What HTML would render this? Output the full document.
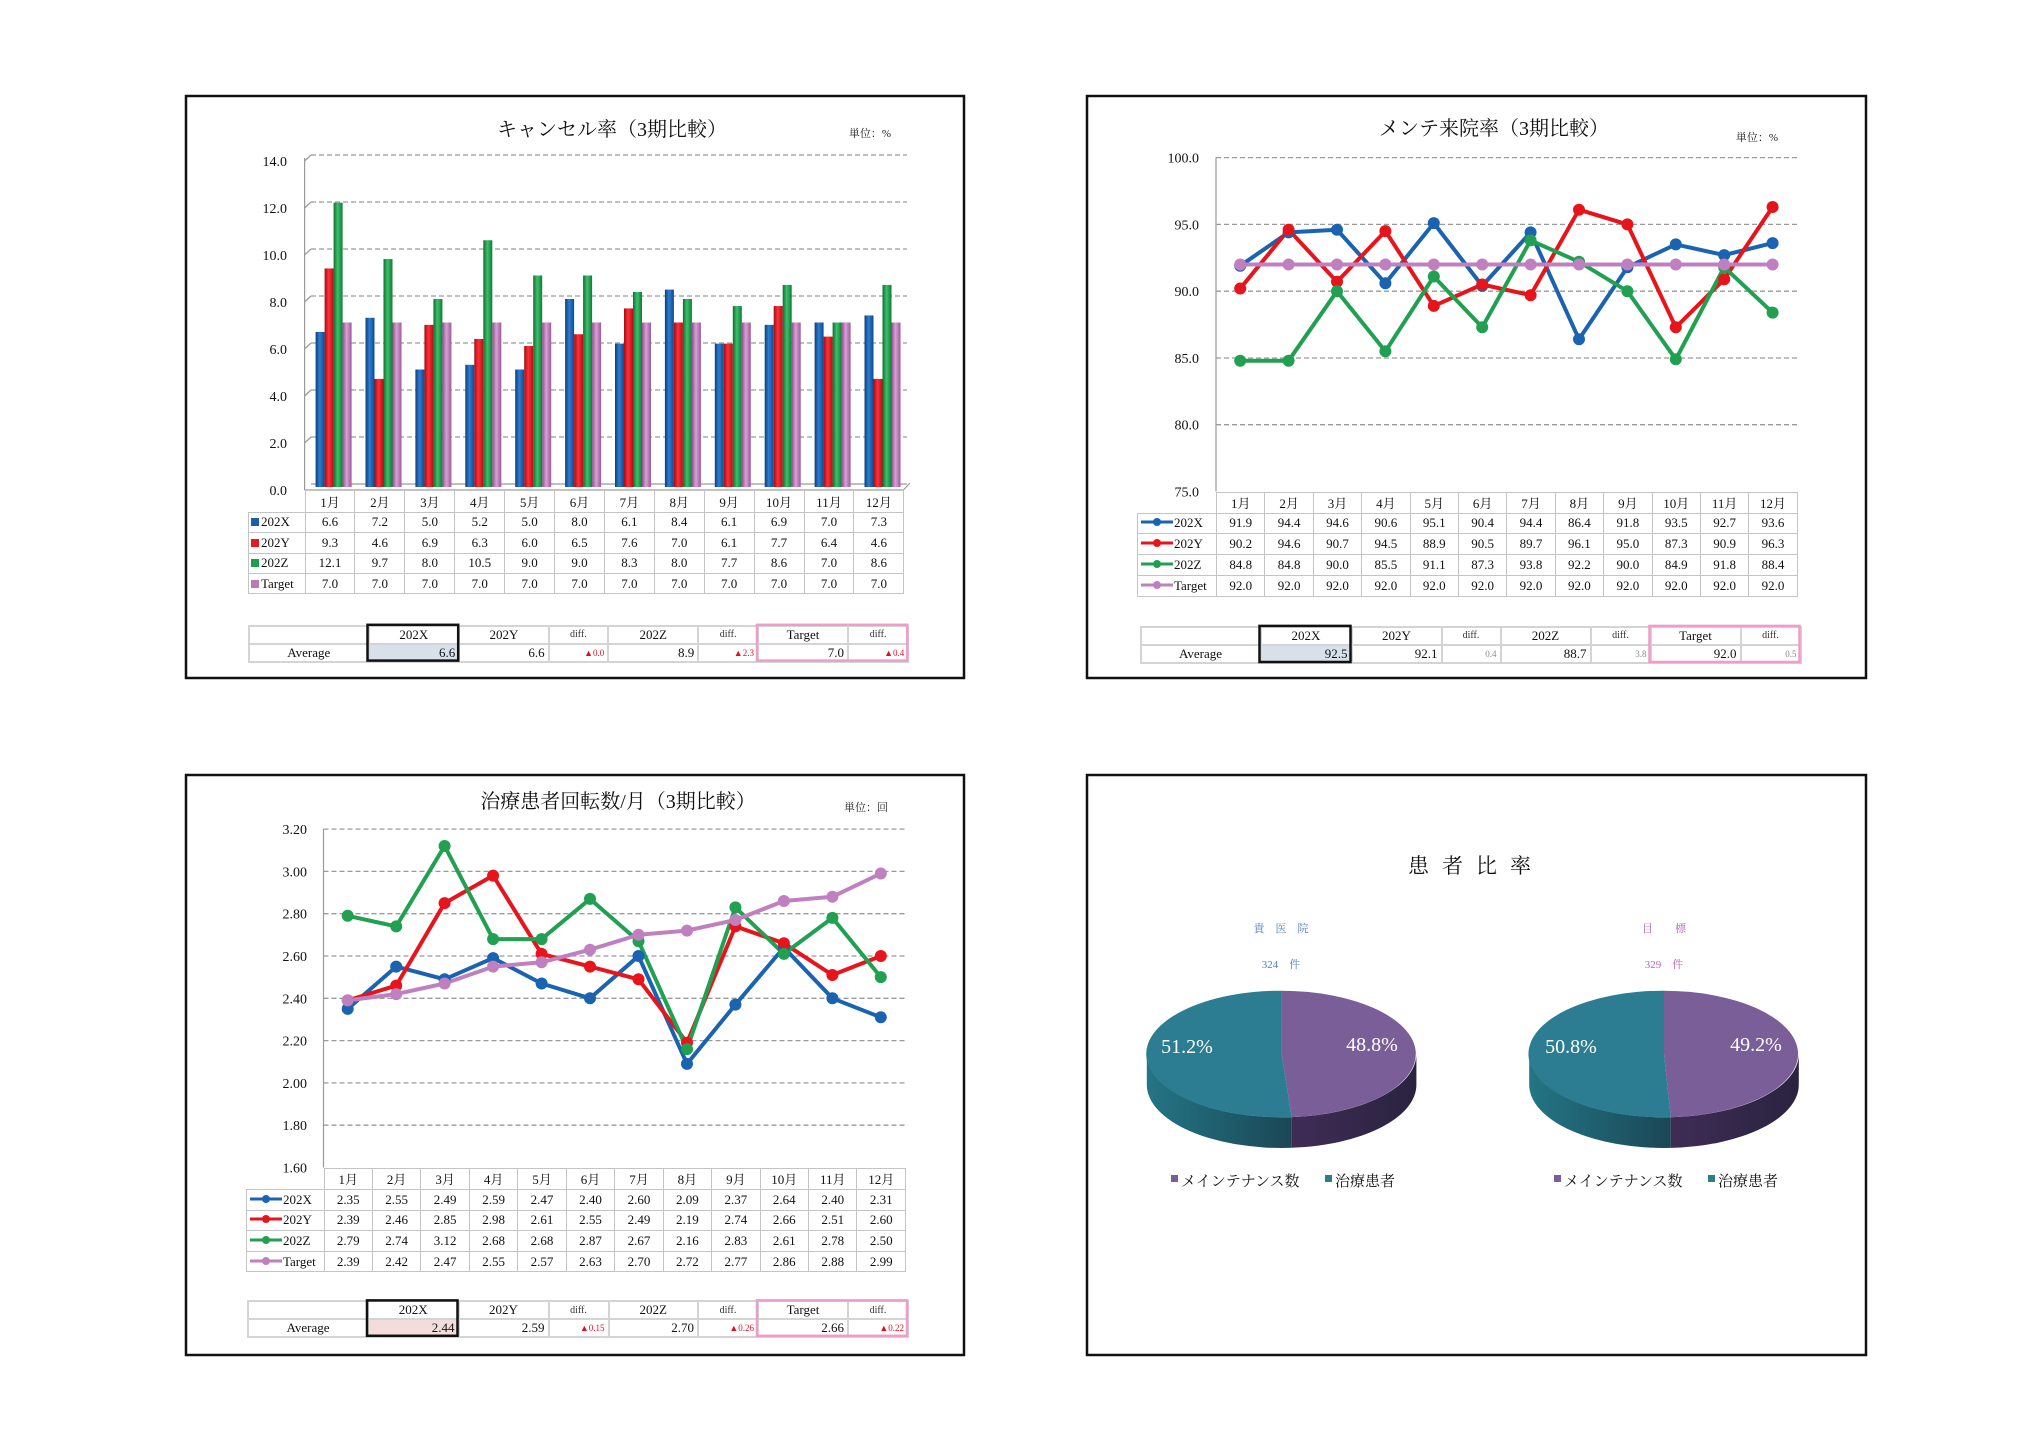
<!DOCTYPE html>
<html><head><meta charset="utf-8">
<style>
html,body{margin:0;padding:0;background:#fff;}
#w{position:relative;width:2024px;height:1434px;overflow:hidden;background:#fff;}
svg.main{position:absolute;left:0;top:0;}
.t{position:absolute;border-collapse:collapse;table-layout:fixed;font:13px "Liberation Serif","Noto Serif CJK SC",serif;color:#111;}
.t td{border:1.5px solid #c4c4c4;padding:0;text-align:center;white-space:nowrap;overflow:hidden;}
.t td.e{border-top:hidden;border-left:hidden;}
.t td.l{text-align:left;padding-left:2px;}
.sq{display:inline-block;width:8px;height:8px;margin-right:2px;vertical-align:0px;}
.a{position:absolute;border-collapse:collapse;table-layout:fixed;font:13px "Liberation Serif",serif;color:#111;}
.a td{border:2px solid #d4d4d4;padding:0 3px;text-align:center;white-space:nowrap;overflow:hidden;}
.a td.r{text-align:right;}
.a td.d{font-size:10px;color:#333;}
.a td.rd{font-size:9px;color:#e01020;text-align:right;}
.a td.gd{font-size:9px;color:#888;text-align:right;}
</style></head><body><div id="w">
<svg class="main" width="2024" height="1434" viewBox="0 0 2024 1434" font-family="Liberation Serif, Noto Serif CJK SC, serif">
<defs>
<linearGradient id="gb" x1="0" x2="1" y1="0" y2="0"><stop offset="0" stop-color="#0e3d78"/><stop offset="0.45" stop-color="#2d7dd0"/><stop offset="1" stop-color="#0f4a90"/></linearGradient>
<linearGradient id="gr" x1="0" x2="1" y1="0" y2="0"><stop offset="0" stop-color="#a00c12"/><stop offset="0.45" stop-color="#ff3038"/><stop offset="1" stop-color="#b01018"/></linearGradient>
<linearGradient id="gg" x1="0" x2="1" y1="0" y2="0"><stop offset="0" stop-color="#0f6e30"/><stop offset="0.45" stop-color="#3cc06a"/><stop offset="1" stop-color="#127a38"/></linearGradient>
<linearGradient id="gp" x1="0" x2="1" y1="0" y2="0"><stop offset="0" stop-color="#8e4f8e"/><stop offset="0.45" stop-color="#d9a0d6"/><stop offset="1" stop-color="#9a5a98"/></linearGradient>
<linearGradient id="st" x1="0" x2="1" y1="0" y2="0"><stop offset="0" stop-color="#237585"/><stop offset="1" stop-color="#1b4756"/></linearGradient>
<linearGradient id="sp" x1="0" x2="1" y1="0" y2="0"><stop offset="0" stop-color="#3f2c55"/><stop offset="1" stop-color="#2a2340"/></linearGradient>
</defs>

<!-- panels -->
<g fill="none" stroke="#111" stroke-width="2.5">
<rect x="186" y="96" width="778" height="582"/>
<rect x="1087" y="96" width="779" height="582"/>
<rect x="186" y="775" width="778" height="580"/>
<rect x="1087" y="775" width="779" height="580"/>
</g>

<!-- ============ CHART 1 ============ -->
<text x="612" y="136" font-size="20" text-anchor="middle" fill="#111">キャンセル率（3期比較）</text>
<text x="870" y="137" font-size="11" text-anchor="middle" fill="#222">単位：%</text>
<g stroke="#9a9a9a" stroke-width="1.3" stroke-dasharray="5,3">
<line x1="311" y1="155" x2="907" y2="155"/><line x1="311" y1="202" x2="907" y2="202"/>
<line x1="311" y1="249" x2="907" y2="249"/><line x1="311" y1="296" x2="907" y2="296"/>
<line x1="311" y1="343" x2="907" y2="343"/><line x1="311" y1="390" x2="907" y2="390"/>
<line x1="311" y1="437" x2="907" y2="437"/>
</g>
<g stroke="#9a9a9a" stroke-width="1.2">
<line x1="304.6" y1="161" x2="311" y2="155"/><line x1="304.6" y1="208" x2="311" y2="202"/>
<line x1="304.6" y1="255" x2="311" y2="249"/><line x1="304.6" y1="302" x2="311" y2="296"/>
<line x1="304.6" y1="349" x2="311" y2="343"/><line x1="304.6" y1="396" x2="311" y2="390"/>
<line x1="304.6" y1="443" x2="311" y2="437"/>
<line x1="304.6" y1="158" x2="304.6" y2="490"/>
<line x1="311" y1="484" x2="907" y2="484"/>
<line x1="304.6" y1="490" x2="903.4" y2="490"/>
<line x1="903.4" y1="490" x2="910" y2="483"/>
</g>
<g font-size="14" text-anchor="end" fill="#111">
<text x="287" y="166">14.0</text><text x="287" y="213">12.0</text><text x="287" y="260">10.0</text>
<text x="287" y="307">8.0</text><text x="287" y="354">6.0</text><text x="287" y="401">4.0</text>
<text x="287" y="448">2.0</text><text x="287" y="495">0.0</text>
</g>
<!-- bars -->
<g fill="url(#gb)">
<rect x="315.6" y="331.9" width="9" height="155.1"/><rect x="365.5" y="317.8" width="9" height="169.2"/>
<rect x="415.4" y="369.5" width="9" height="117.5"/><rect x="465.3" y="364.8" width="9" height="122.2"/>
<rect x="515.2" y="369.5" width="9" height="117.5"/><rect x="565.1" y="299" width="9" height="188"/>
<rect x="615" y="343.65" width="9" height="143.35"/><rect x="664.9" y="289.6" width="9" height="197.4"/>
<rect x="714.8" y="343.65" width="9" height="143.35"/><rect x="764.7" y="324.85" width="9" height="162.15"/>
<rect x="814.6" y="322.5" width="9" height="164.5"/><rect x="864.5" y="315.45" width="9" height="171.55"/>
</g>
<g fill="url(#gr)">
<rect x="324.6" y="268.45" width="9" height="218.55"/><rect x="374.5" y="378.9" width="9" height="108.1"/>
<rect x="424.4" y="324.85" width="9" height="162.15"/><rect x="474.3" y="338.95" width="9" height="148.05"/>
<rect x="524.2" y="346" width="9" height="141"/><rect x="574.1" y="334.25" width="9" height="152.75"/>
<rect x="624" y="308.4" width="9" height="178.6"/><rect x="673.9" y="322.5" width="9" height="164.5"/>
<rect x="723.8" y="343.65" width="9" height="143.35"/><rect x="773.7" y="306.05" width="9" height="180.95"/>
<rect x="823.6" y="336.6" width="9" height="150.4"/><rect x="873.5" y="378.9" width="9" height="108.1"/>
</g>
<g fill="url(#gg)">
<rect x="333.6" y="202.65" width="9" height="284.35"/><rect x="383.5" y="259.05" width="9" height="227.95"/>
<rect x="433.4" y="299" width="9" height="188"/><rect x="483.3" y="240.25" width="9" height="246.75"/>
<rect x="533.2" y="275.5" width="9" height="211.5"/><rect x="583.1" y="275.5" width="9" height="211.5"/>
<rect x="633" y="291.95" width="9" height="195.05"/><rect x="682.9" y="299" width="9" height="188"/>
<rect x="732.8" y="306.05" width="9" height="180.95"/><rect x="782.7" y="284.9" width="9" height="202.1"/>
<rect x="832.6" y="322.5" width="9" height="164.5"/><rect x="882.5" y="284.9" width="9" height="202.1"/>
</g>
<g fill="url(#gp)">
<rect x="342.6" y="322.5" width="9" height="164.5"/><rect x="392.5" y="322.5" width="9" height="164.5"/>
<rect x="442.4" y="322.5" width="9" height="164.5"/><rect x="492.3" y="322.5" width="9" height="164.5"/>
<rect x="542.2" y="322.5" width="9" height="164.5"/><rect x="592.1" y="322.5" width="9" height="164.5"/>
<rect x="642" y="322.5" width="9" height="164.5"/><rect x="691.9" y="322.5" width="9" height="164.5"/>
<rect x="741.8" y="322.5" width="9" height="164.5"/><rect x="791.7" y="322.5" width="9" height="164.5"/>
<rect x="841.6" y="322.5" width="9" height="164.5"/><rect x="891.5" y="322.5" width="9" height="164.5"/>
</g>

<!-- ============ CHART 2 ============ -->
<text x="1494" y="135" font-size="20" text-anchor="middle" fill="#111">メンテ来院率（3期比較）</text>
<text x="1757" y="141" font-size="11" text-anchor="middle" fill="#222">単位：%</text>
<g stroke="#9a9a9a" stroke-width="1.3" stroke-dasharray="5,3">
<line x1="1216" y1="157.6" x2="1797" y2="157.6"/><line x1="1216" y1="224.4" x2="1797" y2="224.4"/>
<line x1="1216" y1="291.2" x2="1797" y2="291.2"/><line x1="1216" y1="358" x2="1797" y2="358"/>
<line x1="1216" y1="424.7" x2="1797" y2="424.7"/>
</g>
<line x1="1216" y1="157.6" x2="1216" y2="491.5" stroke="#9a9a9a" stroke-width="1.2"/>
<g font-size="14" text-anchor="end" fill="#111">
<text x="1199" y="162.6">100.0</text><text x="1199" y="229.4">95.0</text><text x="1199" y="296.2">90.0</text>
<text x="1199" y="363">85.0</text><text x="1199" y="429.7">80.0</text><text x="1199" y="496.5">75.0</text>
</g>
<g fill="none" stroke-width="4" stroke-linejoin="round">
<polyline stroke="#1a63b0" points="1240.2,265.8 1288.6,232.4 1337,229.7 1385.4,283.2 1433.8,223.1 1482.2,285.9 1530.6,232.4 1579,339.3 1627.4,267.2 1675.8,244.4 1724.2,255.1 1772.6,243.1"/>
<polyline stroke="#e8141c" points="1240.2,288.5 1288.6,229.7 1337,281.8 1385.4,231.1 1433.8,305.9 1482.2,284.5 1530.6,295.2 1579,209.7 1627.4,224.4 1675.8,327.3 1724.2,279.2 1772.6,207"/>
<polyline stroke="#20a050" points="1240.2,360.7 1288.6,360.7 1337,291.2 1385.4,351.3 1433.8,276.5 1482.2,327.3 1530.6,240.4 1579,261.8 1627.4,291.2 1675.8,359.3 1724.2,267.2 1772.6,312.6"/>
<polyline stroke="#c080c0" points="1240.2,264.5 1772.6,264.5"/>
</g>
<g fill="#1a63b0"><circle cx="1240.2" cy="265.8" r="6"/><circle cx="1288.6" cy="232.4" r="6"/><circle cx="1337" cy="229.7" r="6"/><circle cx="1385.4" cy="283.2" r="6"/><circle cx="1433.8" cy="223.1" r="6"/><circle cx="1482.2" cy="285.9" r="6"/><circle cx="1530.6" cy="232.4" r="6"/><circle cx="1579" cy="339.3" r="6"/><circle cx="1627.4" cy="267.2" r="6"/><circle cx="1675.8" cy="244.4" r="6"/><circle cx="1724.2" cy="255.1" r="6"/><circle cx="1772.6" cy="243.1" r="6"/></g>
<g fill="#e8141c"><circle cx="1240.2" cy="288.5" r="6"/><circle cx="1288.6" cy="229.7" r="6"/><circle cx="1337" cy="281.8" r="6"/><circle cx="1385.4" cy="231.1" r="6"/><circle cx="1433.8" cy="305.9" r="6"/><circle cx="1482.2" cy="284.5" r="6"/><circle cx="1530.6" cy="295.2" r="6"/><circle cx="1579" cy="209.7" r="6"/><circle cx="1627.4" cy="224.4" r="6"/><circle cx="1675.8" cy="327.3" r="6"/><circle cx="1724.2" cy="279.2" r="6"/><circle cx="1772.6" cy="207" r="6"/></g>
<g fill="#20a050"><circle cx="1240.2" cy="360.7" r="6"/><circle cx="1288.6" cy="360.7" r="6"/><circle cx="1337" cy="291.2" r="6"/><circle cx="1385.4" cy="351.3" r="6"/><circle cx="1433.8" cy="276.5" r="6"/><circle cx="1482.2" cy="327.3" r="6"/><circle cx="1530.6" cy="240.4" r="6"/><circle cx="1579" cy="261.8" r="6"/><circle cx="1627.4" cy="291.2" r="6"/><circle cx="1675.8" cy="359.3" r="6"/><circle cx="1724.2" cy="267.2" r="6"/><circle cx="1772.6" cy="312.6" r="6"/></g>
<g fill="#c080c0"><circle cx="1240.2" cy="264.5" r="6"/><circle cx="1288.6" cy="264.5" r="6"/><circle cx="1337" cy="264.5" r="6"/><circle cx="1385.4" cy="264.5" r="6"/><circle cx="1433.8" cy="264.5" r="6"/><circle cx="1482.2" cy="264.5" r="6"/><circle cx="1530.6" cy="264.5" r="6"/><circle cx="1579" cy="264.5" r="6"/><circle cx="1627.4" cy="264.5" r="6"/><circle cx="1675.8" cy="264.5" r="6"/><circle cx="1724.2" cy="264.5" r="6"/><circle cx="1772.6" cy="264.5" r="6"/></g>

<!-- ============ CHART 3 ============ -->
<text x="618" y="808" font-size="20" text-anchor="middle" fill="#111">治療患者回転数/月（3期比較）</text>
<text x="866" y="811" font-size="11" text-anchor="middle" fill="#222">単位：回</text>
<g stroke="#9a9a9a" stroke-width="1.3" stroke-dasharray="5,3">
<line x1="323.5" y1="829.1" x2="905" y2="829.1"/><line x1="323.5" y1="871.4" x2="905" y2="871.4"/>
<line x1="323.5" y1="913.7" x2="905" y2="913.7"/><line x1="323.5" y1="956" x2="905" y2="956"/>
<line x1="323.5" y1="998.3" x2="905" y2="998.3"/><line x1="323.5" y1="1040.6" x2="905" y2="1040.6"/>
<line x1="323.5" y1="1082.9" x2="905" y2="1082.9"/><line x1="323.5" y1="1125.2" x2="905" y2="1125.2"/>
</g>
<line x1="323.5" y1="829" x2="323.5" y2="1167.5" stroke="#9a9a9a" stroke-width="1.2"/>
<g font-size="14" text-anchor="end" fill="#111">
<text x="307" y="834">3.20</text><text x="307" y="876.4">3.00</text><text x="307" y="918.7">2.80</text>
<text x="307" y="961">2.60</text><text x="307" y="1003.3">2.40</text><text x="307" y="1045.6">2.20</text>
<text x="307" y="1087.9">2.00</text><text x="307" y="1130.2">1.80</text><text x="307" y="1172.5">1.60</text>
</g>
<g fill="none" stroke-width="4" stroke-linejoin="round">
<polyline stroke="#1a63b0" points="347.7,1008.9 396.2,966.6 444.6,979.3 493.1,958.1 541.6,983.5 590,998.3 638.5,956 687,1063.9 735.4,1004.6 783.9,947.5 832.4,998.3 880.8,1017.3"/>
<polyline stroke="#e8141c" points="347.7,1000.4 396.2,985.6 444.6,903.1 493.1,875.6 541.6,953.9 590,966.6 638.5,979.3 687,1042.7 735.4,926.4 783.9,943.3 832.4,975 880.8,956"/>
<polyline stroke="#20a050" points="347.7,915.8 396.2,926.4 444.6,846 493.1,939.1 541.6,939.1 590,898.9 638.5,941.2 687,1049.1 735.4,907.4 783.9,953.9 832.4,917.9 880.8,977.1"/>
<polyline stroke="#c080c0" points="347.7,1000.4 396.2,994.1 444.6,983.5 493.1,966.6 541.6,962.3 590,949.7 638.5,934.8 687,930.6 735.4,920 783.9,901 832.4,896.8 880.8,873.5"/>
</g>
<g fill="#1a63b0"><circle cx="347.7" cy="1008.9" r="6"/><circle cx="396.2" cy="966.6" r="6"/><circle cx="444.6" cy="979.3" r="6"/><circle cx="493.1" cy="958.1" r="6"/><circle cx="541.6" cy="983.5" r="6"/><circle cx="590" cy="998.3" r="6"/><circle cx="638.5" cy="956" r="6"/><circle cx="687" cy="1063.9" r="6"/><circle cx="735.4" cy="1004.6" r="6"/><circle cx="783.9" cy="947.5" r="6"/><circle cx="832.4" cy="998.3" r="6"/><circle cx="880.8" cy="1017.3" r="6"/></g>
<g fill="#e8141c"><circle cx="347.7" cy="1000.4" r="6"/><circle cx="396.2" cy="985.6" r="6"/><circle cx="444.6" cy="903.1" r="6"/><circle cx="493.1" cy="875.6" r="6"/><circle cx="541.6" cy="953.9" r="6"/><circle cx="590" cy="966.6" r="6"/><circle cx="638.5" cy="979.3" r="6"/><circle cx="687" cy="1042.7" r="6"/><circle cx="735.4" cy="926.4" r="6"/><circle cx="783.9" cy="943.3" r="6"/><circle cx="832.4" cy="975" r="6"/><circle cx="880.8" cy="956" r="6"/></g>
<g fill="#20a050"><circle cx="347.7" cy="915.8" r="6"/><circle cx="396.2" cy="926.4" r="6"/><circle cx="444.6" cy="846" r="6"/><circle cx="493.1" cy="939.1" r="6"/><circle cx="541.6" cy="939.1" r="6"/><circle cx="590" cy="898.9" r="6"/><circle cx="638.5" cy="941.2" r="6"/><circle cx="687" cy="1049.1" r="6"/><circle cx="735.4" cy="907.4" r="6"/><circle cx="783.9" cy="953.9" r="6"/><circle cx="832.4" cy="917.9" r="6"/><circle cx="880.8" cy="977.1" r="6"/></g>
<g fill="#c080c0"><circle cx="347.7" cy="1000.4" r="6"/><circle cx="396.2" cy="994.1" r="6"/><circle cx="444.6" cy="983.5" r="6"/><circle cx="493.1" cy="966.6" r="6"/><circle cx="541.6" cy="962.3" r="6"/><circle cx="590" cy="949.7" r="6"/><circle cx="638.5" cy="934.8" r="6"/><circle cx="687" cy="930.6" r="6"/><circle cx="735.4" cy="920" r="6"/><circle cx="783.9" cy="901" r="6"/><circle cx="832.4" cy="896.8" r="6"/><circle cx="880.8" cy="873.5" r="6"/></g>

<!-- ============ CHART 4 ============ -->
<text x="1476" y="873" font-size="21" text-anchor="middle" letter-spacing="13" fill="#111">患者比率</text>
<text x="1281" y="932" font-size="11" text-anchor="middle" fill="#4f7fbf">貴　医　院</text>
<text x="1281" y="968" font-size="11" text-anchor="middle" fill="#4f7fbf">324　件</text>
<text x="1664" y="932" font-size="11" text-anchor="middle" fill="#c060b8">目　　標</text>
<text x="1664" y="968" font-size="11" text-anchor="middle" fill="#c060b8">329　件</text>
<!-- left pie cx1281.6 cy1054 rx134.8 ry63.3 d30.7 -->
<path d="M1146.8,1054 A134.8,63.3 0 0 0 1291.7,1117.1 L1291.7,1147.8 A134.8,63.3 0 0 1 1146.8,1084.7 Z" fill="url(#st)"/>
<path d="M1291.7,1117.1 A134.8,63.3 0 0 0 1416.4,1054 L1416.4,1084.7 A134.8,63.3 0 0 1 1291.7,1147.8 Z" fill="url(#sp)"/>
<path d="M1281.6,1054 L1281.6,990.7 A134.8,63.3 0 0 1 1291.7,1117.1 Z" fill="#7a5e98"/>
<path d="M1281.6,1054 L1291.7,1117.1 A134.8,63.3 0 1 1 1281.6,990.7 Z" fill="#2c7d92"/>
<!-- right pie cx1664 -->
<path d="M1529.2,1054 A134.8,63.3 0 0 0 1670.8,1117.2 L1670.8,1147.9 A134.8,63.3 0 0 1 1529.2,1084.7 Z" fill="url(#st)"/>
<path d="M1670.8,1117.2 A134.8,63.3 0 0 0 1798.8,1054 L1798.8,1084.7 A134.8,63.3 0 0 1 1670.8,1147.9 Z" fill="url(#sp)"/>
<path d="M1664,1054 L1664,990.7 A134.8,63.3 0 0 1 1670.8,1117.2 Z" fill="#7a5e98"/>
<path d="M1664,1054 L1670.8,1117.2 A134.8,63.3 0 1 1 1664,990.7 Z" fill="#2c7d92"/>
<g font-size="20" fill="#fff" text-anchor="middle">
<text x="1187" y="1053">51.2%</text><text x="1372" y="1051">48.8%</text>
<text x="1571" y="1053">50.8%</text><text x="1756" y="1051">49.2%</text>
</g>
<g font-size="15" fill="#111">
<rect x="1171" y="1175" width="7" height="7" fill="#7a5e98"/><text x="1181" y="1186">メインテナンス数</text>
<rect x="1325" y="1175" width="7" height="7" fill="#2c7d92"/><text x="1335" y="1186">治療患者</text>
<rect x="1554" y="1175" width="7" height="7" fill="#7a5e98"/><text x="1564" y="1186">メインテナンス数</text>
<rect x="1708" y="1175" width="7" height="7" fill="#2c7d92"/><text x="1718" y="1186">治療患者</text>
</g>
</svg>

<!-- TABLE 1 -->
<table class="t" style="left:248px;top:490px;width:655.4px;">
<colgroup><col style="width:56.6px"><col span="12" style="width:49.9px"></colgroup>
<tr style="height:21.5px"><td class="e"></td><td>1月</td><td>2月</td><td>3月</td><td>4月</td><td>5月</td><td>6月</td><td>7月</td><td>8月</td><td>9月</td><td>10月</td><td>11月</td><td>12月</td></tr>
<tr style="height:20.5px"><td class="l"><i class="sq" style="background:#1a5fa8"></i>202X</td><td>6.6</td><td>7.2</td><td>5.0</td><td>5.2</td><td>5.0</td><td>8.0</td><td>6.1</td><td>8.4</td><td>6.1</td><td>6.9</td><td>7.0</td><td>7.3</td></tr>
<tr style="height:20.5px"><td class="l"><i class="sq" style="background:#e31b23"></i>202Y</td><td>9.3</td><td>4.6</td><td>6.9</td><td>6.3</td><td>6.0</td><td>6.5</td><td>7.6</td><td>7.0</td><td>6.1</td><td>7.7</td><td>6.4</td><td>4.6</td></tr>
<tr style="height:20.5px"><td class="l"><i class="sq" style="background:#1e9e4a"></i>202Z</td><td>12.1</td><td>9.7</td><td>8.0</td><td>10.5</td><td>9.0</td><td>9.0</td><td>8.3</td><td>8.0</td><td>7.7</td><td>8.6</td><td>7.0</td><td>8.6</td></tr>
<tr style="height:20px"><td class="l"><i class="sq" style="background:#b97ab8"></i>Target</td><td>7.0</td><td>7.0</td><td>7.0</td><td>7.0</td><td>7.0</td><td>7.0</td><td>7.0</td><td>7.0</td><td>7.0</td><td>7.0</td><td>7.0</td><td>7.0</td></tr>
</table>
<table class="a" style="left:248px;top:624.8px;width:659.3px;">
<colgroup><col style="width:119.5px"><col style="width:90.7px"><col style="width:89.4px"><col style="width:59.7px"><col style="width:90px"><col style="width:59.7px"><col style="width:90px"><col style="width:60.3px"></colgroup>
<tr style="height:18px"><td></td><td>202X</td><td>202Y</td><td class="d">diff.</td><td>202Z</td><td class="d">diff.</td><td>Target</td><td class="d">diff.</td></tr>
<tr style="height:17.8px"><td>Average</td><td class="r" style="background:#d8e1ea">6.6</td><td class="r">6.6</td><td class="rd">▲0.0</td><td class="r">8.9</td><td class="rd">▲2.3</td><td class="r">7.0</td><td class="rd">▲0.4</td></tr>
</table>

<!-- TABLE 2 -->
<table class="t" style="left:1137px;top:491.5px;width:659.8px;">
<colgroup><col style="width:79px"><col span="12" style="width:48.4px"></colgroup>
<tr style="height:21px"><td class="e"></td><td>1月</td><td>2月</td><td>3月</td><td>4月</td><td>5月</td><td>6月</td><td>7月</td><td>8月</td><td>9月</td><td>10月</td><td>11月</td><td>12月</td></tr>
<tr style="height:20.9px"><td class="l"><svg width="34" height="10" style="vertical-align:0"><line x1="1" y1="5" x2="33" y2="5" stroke="#1a63b0" stroke-width="3"/><circle cx="17" cy="5" r="4" fill="#1a63b0"/></svg>202X</td><td>91.9</td><td>94.4</td><td>94.6</td><td>90.6</td><td>95.1</td><td>90.4</td><td>94.4</td><td>86.4</td><td>91.8</td><td>93.5</td><td>92.7</td><td>93.6</td></tr>
<tr style="height:20.9px"><td class="l"><svg width="34" height="10" style="vertical-align:0"><line x1="1" y1="5" x2="33" y2="5" stroke="#e8141c" stroke-width="3"/><circle cx="17" cy="5" r="4" fill="#e8141c"/></svg>202Y</td><td>90.2</td><td>94.6</td><td>90.7</td><td>94.5</td><td>88.9</td><td>90.5</td><td>89.7</td><td>96.1</td><td>95.0</td><td>87.3</td><td>90.9</td><td>96.3</td></tr>
<tr style="height:20.9px"><td class="l"><svg width="34" height="10" style="vertical-align:0"><line x1="1" y1="5" x2="33" y2="5" stroke="#20a050" stroke-width="3"/><circle cx="17" cy="5" r="4" fill="#20a050"/></svg>202Z</td><td>84.8</td><td>84.8</td><td>90.0</td><td>85.5</td><td>91.1</td><td>87.3</td><td>93.8</td><td>92.2</td><td>90.0</td><td>84.9</td><td>91.8</td><td>88.4</td></tr>
<tr style="height:20.8px"><td class="l"><svg width="34" height="10" style="vertical-align:0"><line x1="1" y1="5" x2="33" y2="5" stroke="#c080c0" stroke-width="3"/><circle cx="17" cy="5" r="4" fill="#c080c0"/></svg>Target</td><td>92.0</td><td>92.0</td><td>92.0</td><td>92.0</td><td>92.0</td><td>92.0</td><td>92.0</td><td>92.0</td><td>92.0</td><td>92.0</td><td>92.0</td><td>92.0</td></tr>
</table>
<table class="a" style="left:1139.5px;top:625.9px;width:660px;">
<colgroup><col style="width:120px"><col style="width:91px"><col style="width:90px"><col style="width:59px"><col style="width:90px"><col style="width:60px"><col style="width:90px"><col style="width:60px"></colgroup>
<tr style="height:17.9px"><td></td><td>202X</td><td>202Y</td><td class="d">diff.</td><td>202Z</td><td class="d">diff.</td><td>Target</td><td class="d">diff.</td></tr>
<tr style="height:18.2px"><td>Average</td><td class="r" style="background:#d8e1ea">92.5</td><td class="r">92.1</td><td class="gd">0.4</td><td class="r">88.7</td><td class="gd">3.8</td><td class="r">92.0</td><td class="gd">0.5</td></tr>
</table>

<!-- TABLE 3 -->
<table class="t" style="left:246px;top:1167.5px;width:659px;">
<colgroup><col style="width:77.5px"><col span="12" style="width:48.46px"></colgroup>
<tr style="height:21.7px"><td class="e"></td><td>1月</td><td>2月</td><td>3月</td><td>4月</td><td>5月</td><td>6月</td><td>7月</td><td>8月</td><td>9月</td><td>10月</td><td>11月</td><td>12月</td></tr>
<tr style="height:20.5px"><td class="l"><svg width="34" height="10" style="vertical-align:0"><line x1="1" y1="5" x2="33" y2="5" stroke="#1a63b0" stroke-width="3"/><circle cx="17" cy="5" r="4" fill="#1a63b0"/></svg>202X</td><td>2.35</td><td>2.55</td><td>2.49</td><td>2.59</td><td>2.47</td><td>2.40</td><td>2.60</td><td>2.09</td><td>2.37</td><td>2.64</td><td>2.40</td><td>2.31</td></tr>
<tr style="height:20.5px"><td class="l"><svg width="34" height="10" style="vertical-align:0"><line x1="1" y1="5" x2="33" y2="5" stroke="#e8141c" stroke-width="3"/><circle cx="17" cy="5" r="4" fill="#e8141c"/></svg>202Y</td><td>2.39</td><td>2.46</td><td>2.85</td><td>2.98</td><td>2.61</td><td>2.55</td><td>2.49</td><td>2.19</td><td>2.74</td><td>2.66</td><td>2.51</td><td>2.60</td></tr>
<tr style="height:20.6px"><td class="l"><svg width="34" height="10" style="vertical-align:0"><line x1="1" y1="5" x2="33" y2="5" stroke="#20a050" stroke-width="3"/><circle cx="17" cy="5" r="4" fill="#20a050"/></svg>202Z</td><td>2.79</td><td>2.74</td><td>3.12</td><td>2.68</td><td>2.68</td><td>2.87</td><td>2.67</td><td>2.16</td><td>2.83</td><td>2.61</td><td>2.78</td><td>2.50</td></tr>
<tr style="height:20.5px"><td class="l"><svg width="34" height="10" style="vertical-align:0"><line x1="1" y1="5" x2="33" y2="5" stroke="#c080c0" stroke-width="3"/><circle cx="17" cy="5" r="4" fill="#c080c0"/></svg>Target</td><td>2.39</td><td>2.42</td><td>2.47</td><td>2.55</td><td>2.57</td><td>2.63</td><td>2.70</td><td>2.72</td><td>2.77</td><td>2.86</td><td>2.88</td><td>2.99</td></tr>
</table>
<table class="a" style="left:247px;top:1300.4px;width:660px;">
<colgroup><col style="width:120px"><col style="width:90.5px"><col style="width:90px"><col style="width:60px"><col style="width:89.5px"><col style="width:60px"><col style="width:90px"><col style="width:60px"></colgroup>
<tr style="height:17.5px"><td></td><td>202X</td><td>202Y</td><td class="d">diff.</td><td>202Z</td><td class="d">diff.</td><td>Target</td><td class="d">diff.</td></tr>
<tr style="height:17.9px"><td>Average</td><td class="r" style="background:#f2dcdc">2.44</td><td class="r">2.59</td><td class="rd">▲0.15</td><td class="r">2.70</td><td class="rd">▲0.26</td><td class="r">2.66</td><td class="rd">▲0.22</td></tr>
</table>

<!-- outlines overlay -->
<svg style="position:absolute;left:0;top:0;pointer-events:none" width="2024" height="1434">
<g fill="none" stroke-width="2.5">
<rect x="367.5" y="624.8" width="90.7" height="35.8" stroke="#111"/>
<rect x="757" y="624.8" width="150.3" height="35.8" stroke="#f09cc8"/>
<rect x="1259.5" y="625.9" width="91" height="36.1" stroke="#111"/>
<rect x="1649.5" y="625.9" width="150" height="36.1" stroke="#f09cc8"/>
<rect x="367" y="1300.4" width="90.5" height="35.4" stroke="#111"/>
<rect x="757" y="1300.4" width="150" height="35.4" stroke="#f09cc8"/>
</g>
</svg>
</div></body></html>
